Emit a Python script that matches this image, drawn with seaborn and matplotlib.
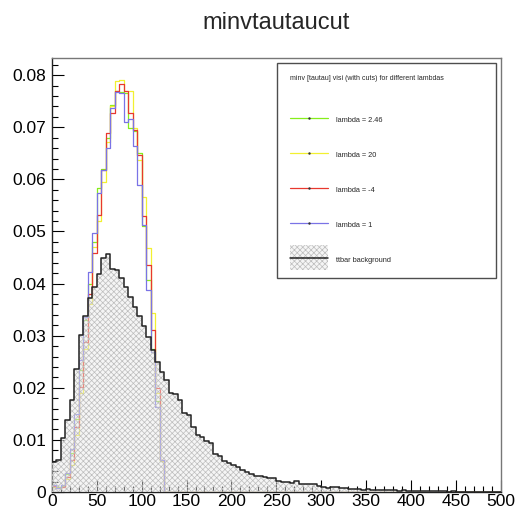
import numpy as np
import pandas as pd
import matplotlib
matplotlib.use("Agg")
import matplotlib.pyplot as plt
import seaborn as sns
from matplotlib.patches import Patch, Rectangle
from matplotlib.lines import Line2D
from matplotlib.legend_handler import HandlerPatch
from matplotlib.ticker import MultipleLocator, FuncFormatter

# 100 bins of width 5 from 0 to 500
bin_edges = list(range(0, 505, 5))

ttbar_background = [
    0.0058, 0.0062, 0.0103, 0.0138, 0.0176, 0.0237, 0.0302, 0.0338, 0.0372, 0.0394,
    0.0418, 0.0449, 0.0456, 0.0428, 0.0426, 0.0410, 0.0393, 0.0374, 0.0355, 0.0337,
    0.0318, 0.0298, 0.0272, 0.0250, 0.0231, 0.0215, 0.0190, 0.0188, 0.0176, 0.0152,
    0.0148, 0.0125, 0.0110, 0.0106, 0.0097, 0.0094, 0.0072, 0.0069, 0.0059, 0.0056,
    0.0052, 0.0048, 0.0043, 0.0039, 0.0034, 0.0031, 0.0030, 0.0029, 0.0027, 0.0026,
    0.0021, 0.0020, 0.0019, 0.0018, 0.0021, 0.0016, 0.0015, 0.0016, 0.0015, 0.0011,
    0.0010, 0.0008, 0.0009, 0.0010, 0.0008, 0.0008, 0.0006, 0.0005, 0.0006, 0.0004,
    0.0005, 0.0004, 0.0004, 0.0003, 0.0004, 0.0003, 0.0003, 0.0002, 0.0003, 0.0002,
    0.0002, 0.0002, 0.0001, 0.0002, 0.0001, 0.0001, 0.0001, 0.0001, 0.00005, 0.0001,
    0.00005, 0.00005, 0.00003, 0.00005, 0.00003, 0.00002, 0.00003, 0.00002, 0.00002, 0.00001,
]

# signal samples, only filled up to 125 (after the cut)
lambda_2_46 = [
    0.0014, 0.0009, 0.0012, 0.0035, 0.0075, 0.0140, 0.0235, 0.0330, 0.0400, 0.0480,
    0.0584, 0.0620, 0.0680, 0.0742, 0.0770, 0.0768, 0.0766, 0.0698, 0.0693, 0.0650,
    0.0510, 0.0407, 0.0275, 0.0175, 0.0060,
]
lambda_20 = [
    0.0010, 0.0007, 0.0009, 0.0025, 0.0052, 0.0110, 0.0190, 0.0275, 0.0360, 0.0470,
    0.0520, 0.0595, 0.0672, 0.0740, 0.0789, 0.0791, 0.0769, 0.0769, 0.0698, 0.0637,
    0.0566, 0.0468, 0.0343, 0.0190, 0.0060,
]
lambda_m4 = [
    0.0012, 0.0007, 0.0010, 0.0029, 0.0062, 0.0125, 0.0202, 0.0288, 0.0380, 0.0458,
    0.0531, 0.0618, 0.0689, 0.0727, 0.0770, 0.0783, 0.0769, 0.0727, 0.0695, 0.0647,
    0.0530, 0.0436, 0.0311, 0.0200, 0.0061,
]
lambda_1 = [
    0.0014, 0.0008, 0.0013, 0.0036, 0.0082, 0.0150, 0.0253, 0.0336, 0.0423, 0.0498,
    0.0573, 0.0618, 0.0660, 0.0737, 0.0768, 0.0766, 0.0711, 0.0715, 0.0664, 0.0589,
    0.0512, 0.0388, 0.0269, 0.0164, 0.0061,
]

signal_labels = ["lambda = 2.46", "lambda = 20", "lambda = -4", "lambda = 1"]
signal_colors = ["#86ee1a", "#f2f030", "#e8382e", "#7a73e6"]
signals = [lambda_2_46, lambda_20, lambda_m4, lambda_1]

centers = [e + 2.5 for e in bin_edges[:-1]]

hatch_face = (0.92, 0.92, 0.92, 0.45)
hatch_edge = "#bdbdbd"


def hist_frame(vals):
    w = list(vals) + [0.0] * (len(centers) - len(vals))
    return pd.DataFrame({"minv": centers, "w": w})


def tall_box(legend, orig_handle, xdescent, ydescent, width, height, fontsize):
    # hatched swatch taller than the text row, centred on the line
    cy = (height - ydescent) / 2
    return Rectangle((-xdescent, cy - 9), width, 18)


sns.set_style("white")
plt.rcParams["font.family"] = ["Liberation Sans", "DejaVu Sans"]
plt.rcParams["hatch.linewidth"] = 0.5

fig = plt.figure(figsize=(5.17, 5.16), dpi=100)
ax = fig.add_axes([52 / 517, 24 / 516, 448.5 / 517, 434 / 516])

for vals, col in zip(signals, signal_colors):
    sns.histplot(data=hist_frame(vals), x="minv", weights="w", bins=bin_edges,
                 element="step", fill=False, color=col, linewidth=0.9, ax=ax,
                 zorder=2)

# hatched background drawn over the signals
bkg = hist_frame(ttbar_background)
sns.histplot(data=bkg, x="minv", weights="w", bins=bin_edges, element="step",
             fill=True, facecolor=hatch_face, edgecolor=hatch_edge,
             hatch="xxxxxx", linewidth=0, ax=ax, zorder=3)
sns.histplot(data=bkg, x="minv", weights="w", bins=bin_edges, element="step",
             fill=False, color="#222222", linewidth=1.1, ax=ax, zorder=4)

ax.set_xlim(0, 500)
ax.set_ylim(0, 0.0833)
ax.set_xlabel("")
ax.set_ylabel("")
ax.xaxis.set_major_locator(MultipleLocator(50))
ax.xaxis.set_minor_locator(MultipleLocator(10))
ax.yaxis.set_major_locator(MultipleLocator(0.01))
ax.yaxis.set_minor_locator(MultipleLocator(0.002))
ax.yaxis.set_major_formatter(FuncFormatter(
    lambda v, p: "0" if abs(v) < 1e-9 else f"{v:.2f}"))
ax.tick_params(which="both", direction="in", bottom=True, left=True,
               top=False, right=False, labelsize=12.5, colors="black",
               width=0.8)
ax.tick_params(axis="y", which="major", length=8.5, pad=4)
ax.tick_params(axis="x", which="major", length=8.5, pad=1.5)
ax.tick_params(which="minor", length=4.3)
for side in ["top", "right"]:
    ax.spines[side].set_color("#777777")
    ax.spines[side].set_linewidth(1.0)
for side in ["left", "bottom"]:
    ax.spines[side].set_color("#222222")
    ax.spines[side].set_linewidth(1.0)

fig.text(276 / 517, 1 - 23 / 516, "minvtautaucut", ha="center", va="center",
         fontsize=17)

handles = [Line2D([], [], color=c, linewidth=0.9, marker=".", markersize=1.5,
                  markerfacecolor="#333333", markeredgecolor="#333333")
           for c in signal_colors]
bkg_handle = (Patch(facecolor=hatch_face, edgecolor=hatch_edge,
                    hatch="xxxxxx", linewidth=0),
              Line2D([], [], color="#222222", linewidth=1.1))
handles.append(bkg_handle)
labels = signal_labels + ["ttbar background"]

leg = ax.legend(handles, labels, loc="upper left",
                bbox_to_anchor=(0.5017, 0.4988, 0.4883, 0.49), mode="expand",
                borderaxespad=0, fontsize=5.3,
                title="minv [tautau] visi (with cuts) for different lambdas\n ",
                title_fontsize=5.0, alignment="left", handlelength=5.2,
                handleheight=2.0, labelspacing=3.2, handletextpad=1.1,
                borderpad=1.7, numpoints=1, frameon=True, fancybox=False,
                handler_map={Patch: HandlerPatch(patch_func=tall_box)})
leg.get_frame().set_edgecolor("#222222")
leg.get_frame().set_linewidth(1.0)

fig.savefig("out.png", dpi=100)
